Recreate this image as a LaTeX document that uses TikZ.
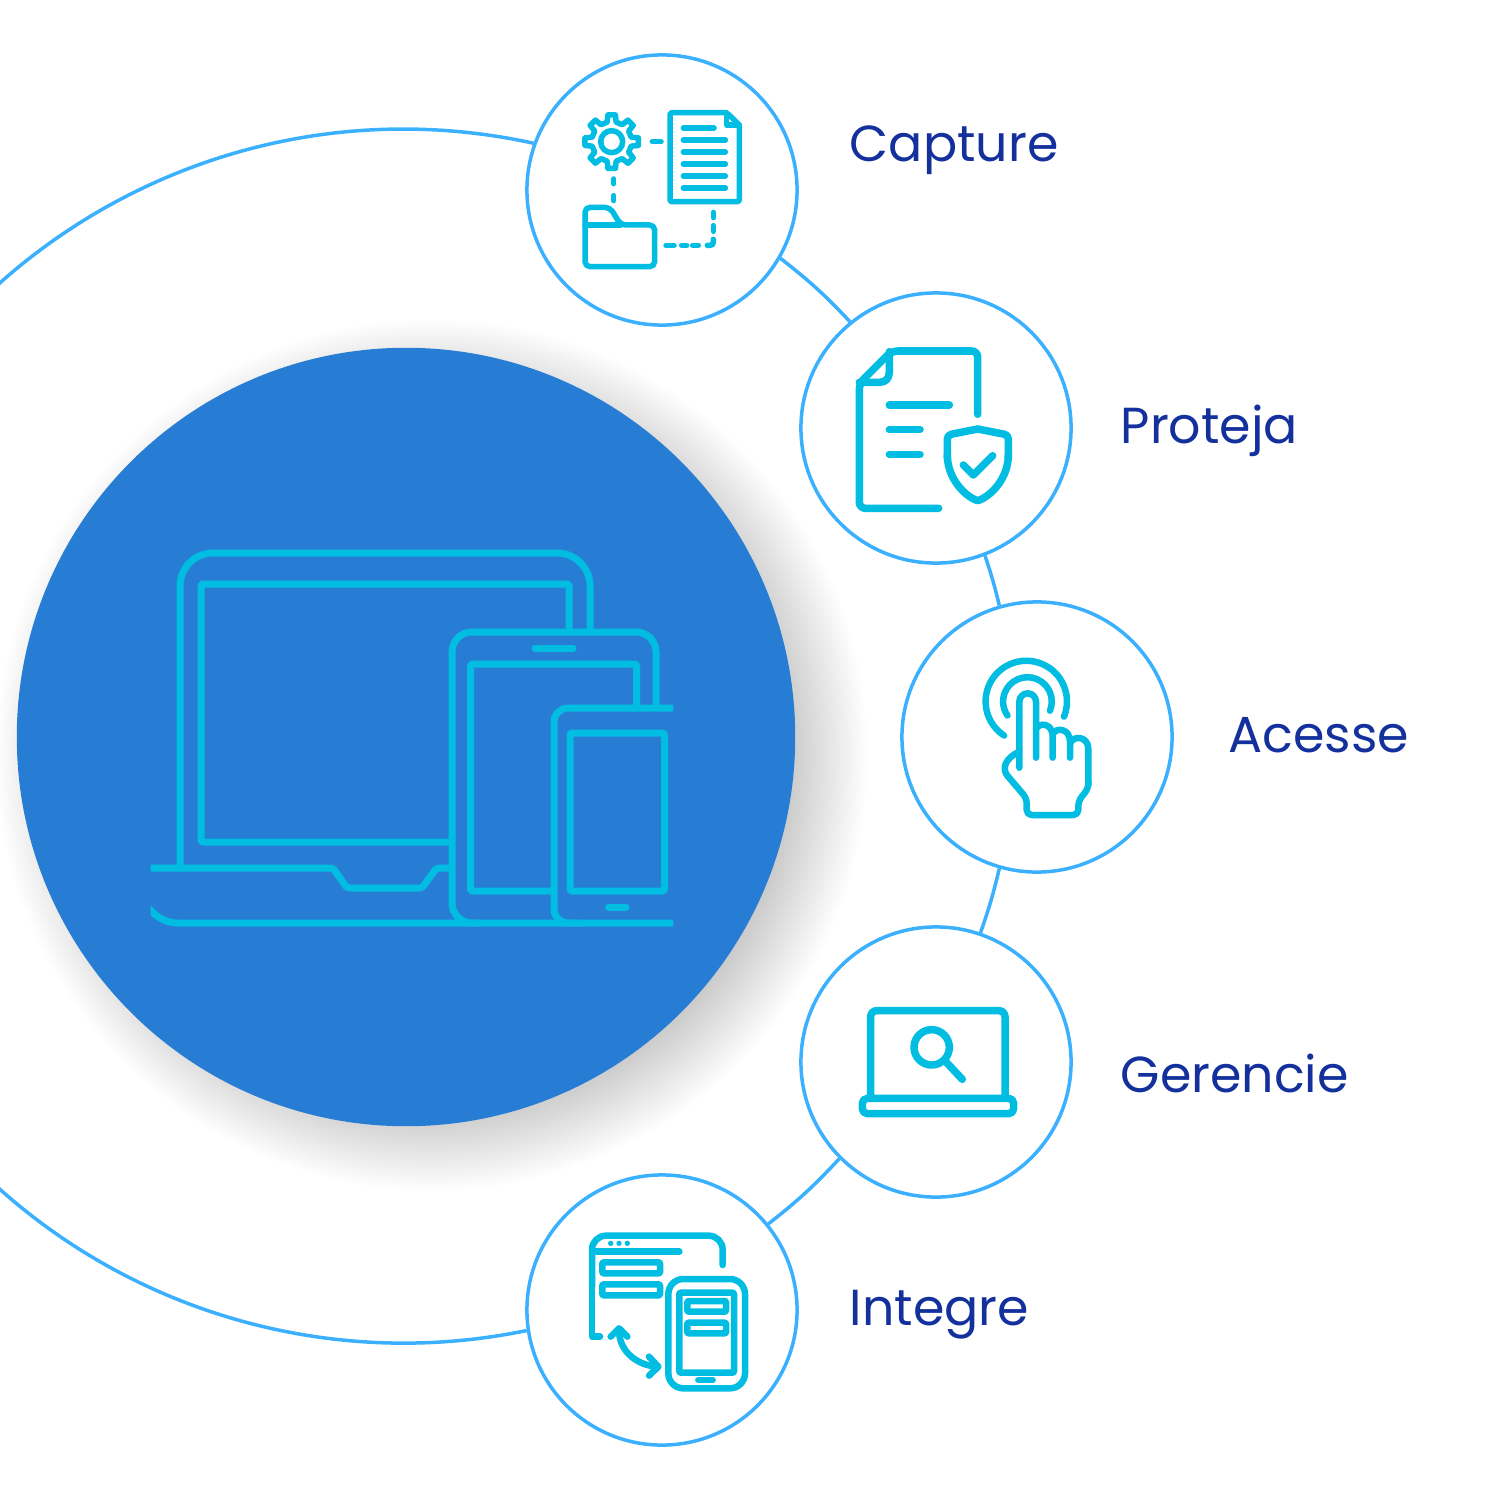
\documentclass[tikz,border=0pt]{standalone}
\usepackage{fontspec}
\setmainfont{Poppins}
\begin{document}
\begin{tikzpicture}[x=0.01cm,y=-0.01cm,
    stepnode/.style={draw=kOrbit,line width=0.035cm,fill=white,circle,minimum size=2.7cm,inner sep=0},
    steptext/.style={anchor=base west,inner sep=0,text=kText,font=\fontsize{14.4}{16}\selectfont},
    orbitline/.style={draw=kOrbit,line width=0.035cm},
    iconline/.style={draw=kCyan,line width=0.06cm,line cap=round,line join=round},
    devline/.style={draw=kCyan,line width=0.07cm,line join=round}]
  % colors
  \definecolor{kOrbit}{HTML}{3BB0FF}
  \definecolor{kBlue}{HTML}{277DD4}
  \definecolor{kCyan}{HTML}{02BDE2}
  \definecolor{kText}{HTML}{13309C}
  \useasboundingbox (0,0) rectangle (1500,1500);
  \clip (0,0) rectangle (1500,1500);
  % shadow
  \foreach \r in {360,363,...,437}
    \fill[black,opacity=0.007] (432,755) circle (\r);
  % hub
  \node[fill=kBlue,circle,minimum size=7.78cm,inner sep=0] (hub) at (406,737) {};
  % steps
  \node[stepnode] (capture) at (662,190) {};
  \node[stepnode] (protect) at (936,428) {};
  \node[stepnode] (access) at (1037,737) {};
  \node[stepnode] (manage) at (936,1062) {};
  \node[stepnode] (integrate) at (662,1310) {};
  \draw[orbitline] (capture.-30) to[bend left=4.5] (protect.129);
  \draw[orbitline] (protect.-69) to[bend left=2.5] (access.106);
  \draw[orbitline] (access.-106) to[bend left=3] (manage.71);
  \draw[orbitline] (manage.-135) to[bend left=4.5] (integrate.39);
  \draw[orbitline] (capture.160) arc (-77.66:-281.7:607);
  % labels
  \node[steptext] (captureText) at (849,162) {Capture};
  \node[steptext] (protectText) at (1120,443) {Proteja};
  \node[steptext] (accessText) at (1228,752) {Acesse};
  \node[steptext] (manageText) at (1120,1092) {Gerencie};
  \node[steptext] (integrateText) at (849,1325) {Integre};
  % devices
  \draw[devline,rounded corners=0.33cm] (180,868) -- (180,553) -- (590,553) -- (590,632);
  \draw[devline,rounded corners=0.02cm] (569,632) -- (569,584) -- (201,584) -- (201,842) -- (452,842);
  \draw[devline,rounded corners=0.02cm] (150.5,868) -- (333,868) -- (347,888) -- (422,888) -- (436.5,868) -- (452,868);
  \begin{scope}
    \clip (150.5,895) rectangle (673,935);
    \draw[devline] (140,895) .. controls (150,915) and (165,923) .. (177,923) -- (673,923);
  \end{scope}
  \draw[devline,rounded corners=0.2cm] (656,706) -- (656,632) -- (452,632) -- (452,923) -- (480,923);
  \draw[devline,line cap=round] (535,648) -- (573,648);
  \draw[devline,rounded corners=0.02cm] (636.5,706) -- (636.5,664) -- (470.5,664) -- (470.5,891) -- (554,891);
  \draw[devline,rounded corners=0.14cm] (673,708) -- (554,708) -- (554,923) -- (580,923);
  \draw[devline,rounded corners=0.02cm] (570,733) rectangle (664.5,891);
  \draw[devline,line cap=round] (608.5,907) -- (626,907);
  % capture icon
  \begin{scope}[shift={(560,90)},scale=1/3,iconline/.append style={line width=0.055cm}]
    \begin{scope}[shift={(155,155)}]
      \draw[iconline] (-13:60) \foreach \a in {0,45,...,315} {
        -- (\a-13:60) -- (\a-8:81) -- (\a+8:81) -- (\a+13:60)} -- cycle;
      \draw[iconline] (0,0) circle (33);
    \end{scope}
    \draw[iconline] (277,155) -- (303,155);
    \draw[iconline] (161,267) -- (161,281) (161,317) -- (161,332);
    \draw[iconline,rounded corners=0.02cm] (500,68) -- (330,68) -- (330,335) -- (538,335) -- (538,105) -- cycle;
    \draw[iconline] (500,68) -- (500,105) -- (538,105);
    \foreach \y in {150,186,222,258,294}
      \draw[iconline] (370,\y) -- (496,\y);
    \draw[iconline] (370,114) -- (462,114);
    \draw[iconline,rounded corners=0.05cm] (75,405) -- (75,352) -- (150,352) -- (182,405) -- (284,405) -- (284,530) -- (75,530) -- cycle;
    \draw[iconline] (75,405) -- (182,405);
    \draw[iconline] (460,367) -- (460,383) (460,407) -- (460,424);
    \draw[iconline,rounded corners=0.03cm] (460,448) -- (460,466) -- (442,466);
    \draw[iconline] (318,466) -- (342,466) (365,466) -- (380,466) (398,466) -- (415,466);
  \end{scope}
  % protect icon
  \begin{scope}[shift={(840,335)},scale=1/3,iconline/.append style={line width=0.075cm}]
    \draw[iconline,rounded corners=0.06cm] (296,520) -- (58,520) -- (58,145) -- (155,48) -- (413,48) -- (413,238);
    \draw[iconline] (58,142) -- (118,142) .. controls (138,142) and (148,130) .. (148,110) -- (148,50);
    \draw[iconline] (148,210) -- (328,210);
    \draw[iconline] (148,284) -- (240,284);
    \draw[iconline] (148,358) -- (240,358);
    \draw[iconline,rounded corners=0.04cm] (413,282) -- (322,300) -- (322,370);
    \draw[iconline,rounded corners=0.04cm] (413,282) -- (505,300) -- (505,370);
    \draw[iconline] (322,360) .. controls (322,430) and (375,485) .. (413,497) .. controls (452,485) and (505,430) .. (505,360);
    \draw[iconline] (370,390) -- (400,420) -- (458,362);
  \end{scope}
  % access icon
  \begin{scope}[shift={(960,645)},scale=1/3,iconline/.append style={line width=0.065cm}]
    \draw[iconline] (312,215) arc (22:-237:122);
    \draw[iconline] (270,197) arc (22:-215:73);
    \draw[iconline] (178,368) -- (178,170) arc (180:360:25) -- (228,338);
    \draw[iconline] (228,252) .. controls (236,232) and (278,232) .. (278,275) -- (278,338);
    \draw[iconline] (278,268) .. controls (288,245) and (330,250) .. (330,290) -- (330,338);
    \draw[iconline] (330,296) .. controls (338,270) and (385,272) .. (385,312) -- (385,420);
    \draw[iconline,rounded corners=0.05cm] (385,410) -- (385,430) -- (355,468) -- (355,510) -- (200,510) -- (200,460) -- (142,392);
    \draw[iconline] (142,392) .. controls (125,370) and (135,340) .. (178,320);
  \end{scope}
  % manage icon
  \begin{scope}[shift={(845,995)},scale=1/3,iconline/.append style={line width=0.075cm}]
    \draw[iconline,rounded corners=0.06cm] (77,310) -- (77,47) -- (480,47) -- (480,310);
    \draw[iconline,rounded corners=0.05cm] (52,310) -- (506,310) -- (506,356) -- (52,356) -- cycle;
    \draw[iconline] (260,157) circle (53);
    \draw[iconline] (305,203) -- (352,253);
  \end{scope}
  % integrate icon
  \begin{scope}[shift={(570,1220)},scale=1/3,iconline/.append style={line width=0.065cm}]
    \draw[iconline,rounded corners=0.14cm] (66,200) -- (66,47) -- (458,47) -- (458,135);
    \draw[iconline] (66,200) -- (66,350) -- (90,350);
    \draw[iconline] (66,95) -- (328,95);
    \foreach \x in {122,147,172}
      \fill[kCyan] (\x,70) circle (8);
    \draw[iconline,rounded corners=0.01cm] (97,127) rectangle (270,160);
    \draw[iconline,rounded corners=0.01cm] (97,193) rectangle (270,226);
    \draw[iconline,rounded corners=0.15cm] (295,177) rectangle (525,505);
    \draw[iconline,rounded corners=0.01cm] (328,218) rectangle (492,458);
    \draw[iconline,rounded corners=0.01cm] (352,243) rectangle (468,275);
    \draw[iconline,rounded corners=0.01cm] (352,308) rectangle (468,340);
    \draw[iconline] (385,480) -- (428,480);
    \draw[iconline] (147,335) .. controls (150,395) and (200,435) .. (260,440);
    \draw[iconline] (122,350) -- (147,325) -- (172,350);
    \draw[iconline] (237,410) -- (265,440) -- (237,467);
  \end{scope}
\end{tikzpicture}
\end{document}
